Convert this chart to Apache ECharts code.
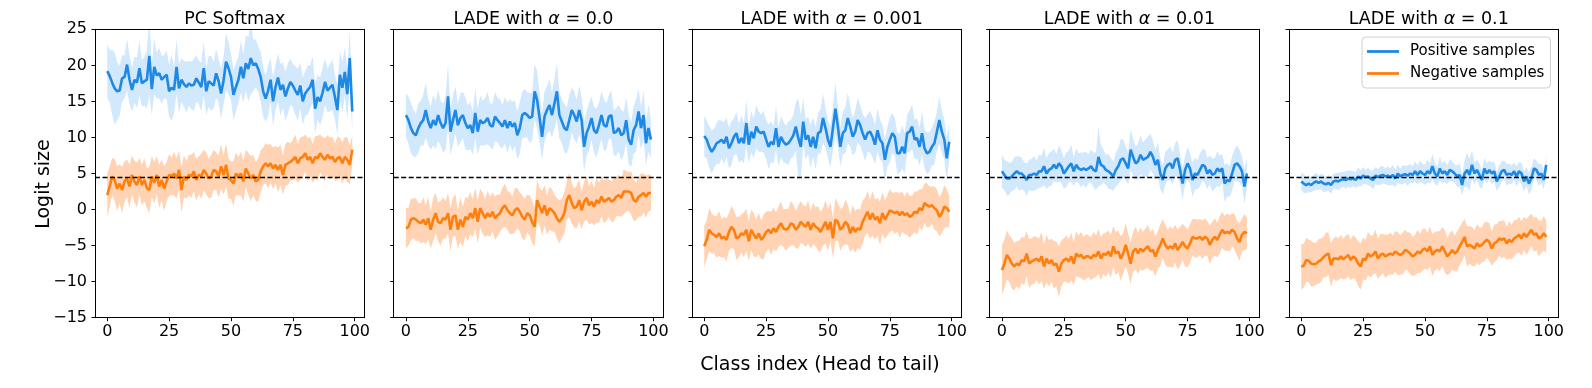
<!DOCTYPE html>
<html>
<head>
<meta charset="utf-8">
<script src="https://cdn.jsdelivr.net/npm/echarts@6/dist/echarts.min.js"></script>
<style>html,body{margin:0;padding:0;background:#fff}#c{width:1592px;height:388px}</style>
</head>
<body>
<div id="c"></div>
<script>
// ---------- DATA ----------
const panelTitles = ['PC Softmax', 'LADE with {a|α} = 0.0', 'LADE with {a|α} = 0.001', 'LADE with {a|α} = 0.01', 'LADE with {a|α} = 0.1'];
const seriesNames = ['Positive samples', 'Negative samples'];
const xTicks = [0, 25, 50, 75, 100];
const classIndex = Array.from({length: 100}, (_, i) => i);
const refLine = 4.5;

const p1Pos = [19.2,18.5,17.6,16.8,16.4,16.5,18.2,18.4,20.1,18.0,
16.6,18.0,17.6,19.6,17.5,17.8,18.0,21.3,16.7,19.8,
18.6,18.9,18.0,18.4,18.7,16.4,16.9,16.6,19.8,16.8,
18.0,17.4,17.0,17.5,17.2,17.3,18.2,17.6,17.0,19.6,
16.4,17.8,17.5,17.2,18.9,17.8,16.1,17.9,20.5,19.6,
18.4,15.9,17.0,18.0,19.8,18.2,20.3,19.5,21.0,20.0,
20.3,19.5,18.4,16.4,15.4,16.5,18.0,15.0,17.0,18.3,
16.6,17.3,15.7,16.8,17.7,17.2,16.5,15.9,17.2,15.0,
16.1,16.6,17.0,18.0,14.0,15.6,15.0,16.2,17.7,16.5,
16.9,17.3,15.6,13.8,18.7,16.9,19.1,16.0,21.0,13.6];
const p1PosStd = [3.8,3.6,4.5,5.0,4.0,3.5,3.2,3.0,3.6,3.4,
3.0,3.2,3.5,3.8,3.2,3.4,4.0,5.5,3.6,3.8,
3.2,3.5,3.3,3.0,3.4,3.6,4.6,3.2,3.8,3.4,
3.0,3.2,3.5,3.1,3.3,3.6,3.2,3.0,3.4,3.7,
3.3,3.5,3.8,3.2,3.4,3.0,3.5,3.3,4.0,3.6,
3.2,3.5,3.4,3.2,3.6,3.4,3.8,4.5,5.0,3.6,
3.3,3.1,3.4,3.5,3.2,3.6,3.0,3.4,3.2,3.3,
3.6,3.1,3.4,3.5,3.2,3.0,3.4,3.6,3.2,3.3,
3.1,3.4,3.0,3.2,3.5,3.1,3.3,3.4,3.2,3.0,
3.3,3.5,3.1,3.4,3.2,3.6,3.3,3.5,3.8,2.8];
const p1Neg = [2.0,3.2,4.6,4.1,2.9,3.6,2.7,3.9,4.3,3.2,
4.8,3.9,3.4,4.6,3.4,4.1,3.0,2.7,4.6,3.7,
4.8,3.2,4.1,2.9,3.9,4.8,4.6,5.0,4.3,5.5,
2.7,4.6,4.1,4.8,4.6,5.3,4.1,4.8,4.6,5.5,
5.0,4.3,4.6,5.5,5.3,4.6,6.0,4.8,6.2,4.3,
4.1,3.6,5.0,4.6,5.0,3.9,5.7,5.0,4.3,4.8,
3.9,4.1,5.3,6.0,6.4,6.0,6.4,5.7,6.2,5.5,
6.2,4.8,6.2,6.4,6.6,6.9,7.3,6.4,7.1,7.3,
7.8,6.9,7.3,6.4,7.3,7.1,7.8,7.3,6.9,7.6,
7.1,7.3,6.6,7.1,7.3,6.4,7.3,6.9,6.2,8.3];
const p1NegStd = [3.0,2.8,2.6,2.9,3.1,2.7,3.2,2.8,2.6,3.0,
2.7,2.9,3.1,2.6,2.8,3.0,2.7,3.2,2.8,2.9,
2.6,3.0,2.8,3.1,2.7,2.9,2.6,3.0,2.8,2.7,
3.1,2.9,2.6,2.8,3.0,2.7,2.9,2.6,3.1,2.8,
2.9,2.7,3.0,2.8,2.6,2.9,3.1,2.7,3.0,2.8,
2.6,3.1,2.9,2.7,3.0,2.8,2.6,2.9,3.1,2.8,
2.7,3.0,2.9,2.6,2.8,3.0,2.7,2.9,2.6,3.1,
2.8,2.7,2.9,3.0,2.6,2.8,3.1,2.7,2.9,2.8,
2.6,3.0,2.8,2.7,2.9,3.1,2.6,2.8,3.0,2.7,
2.9,2.8,2.6,3.0,2.7,2.9,2.8,3.1,2.7,2.0];

const p2Pos = [13.1,12.4,11.3,10.6,10.3,11.3,12.0,12.4,13.8,12.2,
11.3,12.4,11.7,13.1,12.0,11.3,12.0,15.7,10.8,12.4,
13.8,11.7,12.7,13.1,12.0,11.3,11.7,10.6,13.4,10.8,
12.4,12.0,12.2,12.7,11.7,11.5,12.9,12.4,12.0,11.5,
12.4,11.3,12.2,11.5,12.0,10.3,11.3,13.1,13.4,13.1,
12.7,12.9,16.4,15.2,12.7,10.1,12.9,13.8,14.5,13.1,
14.7,16.4,13.1,12.2,11.3,11.0,12.4,13.8,13.1,12.2,
13.8,12.4,8.7,10.6,11.5,12.7,11.0,10.6,11.7,13.1,
11.7,11.5,12.9,13.1,10.6,10.8,11.3,10.3,10.6,12.4,
9.7,9.0,11.0,11.7,13.6,11.3,13.1,9.2,11.3,9.7];
const p2PosStd = [3.0,3.3,3.5,3.2,3.0,3.4,3.1,3.6,3.8,3.2,
3.0,3.5,3.3,3.6,3.1,3.4,3.7,4.4,3.2,3.5,
3.3,3.0,3.4,3.2,3.6,3.1,3.3,3.0,3.4,3.2,
3.5,3.1,3.3,3.6,3.0,3.2,3.4,3.1,3.3,3.0,
3.2,3.5,3.1,3.4,3.2,3.3,3.6,3.2,3.4,3.1,
3.5,3.3,3.8,4.0,3.4,3.2,3.5,3.3,3.6,3.1,
3.4,3.9,3.2,3.0,3.4,3.2,3.5,3.1,3.3,3.0,
3.4,3.2,3.5,3.1,3.3,3.0,3.2,3.4,3.1,3.3,
3.6,3.2,3.0,3.4,3.1,3.3,3.2,3.5,3.0,3.2,
3.4,3.1,3.3,3.6,3.2,3.0,3.4,3.1,3.3,2.6];
const p2Neg = [-2.6,-2.4,-1.4,-1.2,-1.4,-1.7,-1.9,-1.4,-2.1,-1.2,
-2.8,-1.4,-0.5,-1.7,-1.9,-1.2,-1.4,-0.5,-2.8,-1.0,
-0.8,-2.8,-1.4,-2.4,-1.0,-1.4,-0.5,-1.2,0.2,-1.7,
0.2,-0.5,-1.2,-0.5,-1.0,-0.3,-1.2,-0.8,-0.5,0.2,
0.6,-0.1,-0.5,-0.8,-0.1,0.2,-0.3,-1.0,-1.4,-0.5,
-0.8,-1.7,-2.4,1.3,0.4,-0.5,0.6,-0.8,0.2,-0.1,
-0.5,-1.2,-1.7,-1.2,-0.5,1.3,2.0,0.9,0.2,0.4,
1.3,-0.1,1.1,1.6,0.6,1.1,0.4,1.3,0.9,1.8,
1.1,1.3,1.6,1.1,1.3,1.8,2.0,1.6,2.5,2.5,
2.5,2.3,1.3,1.1,1.8,2.0,2.3,1.8,2.3,2.3];
const p2NegStd = [2.8,2.6,2.9,2.7,3.0,2.6,2.8,3.1,2.7,2.9,
2.6,3.0,2.8,2.7,3.1,2.9,2.6,2.8,3.0,2.7,
2.9,2.6,3.1,2.8,2.7,3.0,2.9,2.6,2.8,3.0,
2.7,2.9,2.6,3.1,2.8,2.7,3.0,2.9,2.6,2.8,
3.0,2.7,2.9,2.6,3.1,2.8,2.7,3.0,2.9,2.6,
2.8,3.0,2.7,2.9,2.6,3.1,2.8,2.7,3.0,2.9,
2.6,2.8,3.0,2.7,2.9,2.6,3.1,2.8,2.7,3.0,
2.9,2.6,2.8,3.0,2.7,2.9,2.6,3.1,2.8,2.7,
3.0,2.9,2.6,2.8,3.0,2.7,2.9,2.6,3.1,2.8,
2.7,3.0,2.9,2.6,2.8,3.0,2.7,2.9,2.6,2.4];

const p3Pos = [10.2,9.7,8.7,8.0,8.5,9.2,9.4,9.7,9.2,10.1,
8.5,9.2,10.1,10.6,9.2,9.9,9.2,12.0,9.0,10.8,
9.9,11.5,10.8,10.6,10.8,9.7,8.7,9.4,9.0,11.3,
8.7,10.1,9.4,9.0,9.2,9.7,10.3,11.5,9.9,8.7,
12.2,9.7,10.3,8.7,10.1,8.5,10.6,10.8,12.7,11.3,
9.7,8.7,11.3,14.0,11.5,8.7,10.6,11.0,12.7,11.5,
10.1,10.8,12.4,11.7,10.6,9.7,10.6,10.8,10.1,9.0,
11.0,9.7,9.2,6.9,8.7,9.7,10.6,10.1,7.8,7.8,
8.7,7.8,10.6,10.8,11.5,9.7,9.9,8.7,10.6,8.5,
7.8,8.0,8.7,9.2,10.8,12.4,10.8,9.7,7.1,9.4];
const p3PosStd = [2.8,2.6,2.9,3.0,2.7,2.8,3.1,2.6,2.9,2.7,
2.8,3.0,2.6,2.9,2.7,3.1,2.8,3.2,2.6,2.9,
2.7,3.0,2.8,2.6,2.9,2.7,3.1,2.8,2.6,3.0,
2.7,2.9,2.8,2.6,3.0,2.7,2.9,3.3,5.5,4.5,
3.2,2.8,2.6,3.0,2.7,2.9,2.8,3.1,3.4,2.8,
2.6,2.9,3.0,3.6,2.8,2.7,3.0,3.2,3.5,2.8,
2.6,2.9,3.1,2.8,2.7,3.0,2.6,2.9,2.8,2.7,
3.0,2.8,2.6,2.9,2.7,3.1,2.8,2.6,2.9,2.7,
3.0,2.8,2.6,2.9,3.1,2.7,2.8,2.6,3.0,2.7,
2.9,2.8,2.6,3.0,2.7,3.2,2.9,2.8,3.0,2.5];
const p3Neg = [-5.1,-4.2,-2.8,-3.3,-3.5,-3.8,-3.3,-4.0,-3.8,-4.2,
-3.1,-2.4,-2.8,-4.0,-3.8,-3.3,-3.5,-2.8,-4.4,-2.8,
-3.5,-4.0,-3.3,-4.2,-3.8,-3.1,-2.8,-3.3,-2.6,-3.1,
-2.4,-1.9,-2.6,-2.8,-2.6,-1.9,-2.1,-2.8,-2.4,-1.7,
-2.1,-2.4,-1.7,-2.8,-1.9,-2.4,-2.6,-3.1,-2.4,-1.7,
-2.8,-1.7,-4.0,-1.4,-1.7,-2.8,-2.4,-1.7,-2.1,-3.3,
-2.4,-3.1,-2.6,-2.8,-1.7,-1.0,-0.3,-1.4,-0.5,-1.4,
-1.0,-1.9,-0.5,-1.4,-0.8,-0.1,-0.3,-0.5,-0.3,-0.8,
-0.3,-0.8,-0.5,-1.0,-0.8,-0.3,-0.5,0.2,-0.1,0.9,
0.6,0.4,0.6,0.2,-0.1,-1.0,-0.5,0.4,0.2,-0.3];
const p3NegStd = [2.9,2.7,3.0,2.8,2.6,2.9,3.1,2.7,2.8,3.0,
2.6,2.9,2.7,3.0,2.8,2.6,3.1,2.9,2.7,2.8,
3.0,2.6,2.9,2.7,3.1,2.8,2.6,3.0,2.9,2.7,
2.8,3.0,2.6,2.9,2.7,3.1,2.8,2.6,3.0,2.9,
2.7,2.8,3.0,2.6,2.9,2.7,3.1,2.8,2.6,3.0,
2.9,2.7,2.8,3.0,2.6,2.9,2.7,3.1,2.8,2.6,
3.0,2.9,2.7,2.8,3.0,2.6,2.9,2.7,3.1,2.8,
2.6,3.0,2.9,2.7,2.8,3.0,2.6,2.9,2.7,3.1,
2.8,2.6,3.0,2.9,2.7,2.8,3.0,2.6,2.9,2.7,
3.1,2.8,2.6,3.0,2.9,2.7,2.8,3.0,2.6,2.3];

const p4Pos = [5.3,4.8,4.3,4.3,4.6,5.0,5.3,5.0,5.0,4.6,
4.1,4.8,4.8,5.0,4.8,5.3,5.3,6.0,5.0,5.5,
5.7,6.2,5.7,6.4,6.0,5.0,5.5,6.0,6.4,5.3,
6.2,5.7,5.5,5.7,5.5,5.7,6.0,5.5,5.3,7.3,
6.2,6.0,5.5,5.3,5.0,4.6,5.5,6.0,6.9,7.1,
6.4,5.7,8.3,7.3,6.4,6.7,7.6,6.9,7.1,7.3,
8.0,7.3,6.2,6.9,5.0,4.1,5.7,6.2,6.4,5.7,
6.9,7.1,5.5,3.6,5.5,6.4,5.7,4.1,5.0,4.8,
5.5,6.2,6.0,5.0,5.5,4.8,5.0,5.7,5.3,5.7,
3.6,4.1,3.9,5.0,6.2,6.4,6.0,5.3,3.2,5.0];
const p4PosStd = [2.3,2.1,2.4,2.2,2.0,2.3,2.1,2.4,2.2,2.0,
2.3,2.1,2.2,2.4,2.0,2.3,2.2,2.6,2.1,2.3,
2.4,2.2,2.0,2.5,2.3,2.1,2.4,2.2,2.6,2.0,
2.3,2.1,2.4,2.2,2.5,2.0,2.3,2.4,2.6,4.1,
2.8,2.3,2.1,2.4,2.2,2.0,2.3,2.5,2.9,2.6,
2.4,2.2,2.8,2.6,2.3,2.5,2.7,2.4,2.6,2.8,
2.5,2.3,2.1,2.4,2.2,2.0,2.3,2.1,2.4,2.2,
2.3,2.5,2.1,2.2,2.0,2.3,2.1,2.4,2.2,2.0,
2.3,2.1,2.4,2.2,2.0,2.3,2.1,2.4,2.2,2.0,
2.6,2.3,2.1,2.4,2.2,2.5,2.3,2.1,2.4,2.2];
const p4Neg = [-8.4,-7.5,-6.3,-6.8,-7.5,-7.9,-7.5,-7.7,-7.0,-7.2,
-6.1,-7.5,-7.2,-7.0,-6.8,-7.2,-6.5,-7.9,-6.8,-7.5,
-7.0,-7.7,-7.5,-8.6,-7.5,-7.0,-6.8,-7.2,-6.5,-7.5,
-6.1,-6.5,-6.3,-6.8,-6.5,-6.5,-6.8,-6.3,-6.5,-5.8,
-6.8,-6.1,-6.3,-5.8,-6.5,-5.1,-6.1,-5.8,-6.8,-6.1,
-4.9,-6.1,-7.5,-5.8,-5.4,-6.1,-5.4,-5.8,-5.4,-5.1,
-5.8,-5.6,-6.5,-5.6,-4.9,-4.0,-4.9,-5.4,-5.1,-5.4,
-4.7,-5.6,-5.1,-4.5,-5.1,-5.4,-4.7,-3.8,-4.0,-4.0,
-3.8,-4.2,-3.8,-4.0,-4.9,-4.2,-3.8,-4.2,-3.5,-2.8,
-3.3,-3.1,-3.3,-2.8,-3.1,-4.0,-4.5,-3.5,-3.1,-3.3];
const p4NegStd = [3.5,3.3,3.4,3.2,3.5,3.3,3.1,3.4,3.2,3.3,
3.1,3.4,3.2,3.3,3.0,3.2,3.4,3.1,3.3,3.2,
3.0,3.3,3.1,3.5,3.2,3.0,3.2,3.1,3.3,3.0,
3.1,2.9,3.2,3.0,3.1,2.9,3.0,3.2,2.9,3.1,
3.0,2.8,3.1,2.9,3.0,2.8,3.0,2.9,3.1,2.8,
3.0,2.8,2.9,2.7,3.0,2.8,2.9,2.7,2.8,3.0,
2.7,2.9,2.8,2.6,2.9,2.7,2.8,2.6,2.8,2.7,
2.6,2.8,2.7,2.5,2.8,2.6,2.7,2.5,2.7,2.6,
2.5,2.7,2.6,2.4,2.7,2.5,2.6,2.4,2.6,2.5,
2.4,2.6,2.5,2.3,2.5,2.4,2.6,2.3,2.5,2.2];

const p5Pos = [3.9,3.6,3.4,3.6,3.4,3.7,3.9,3.7,3.9,3.6,
3.5,3.7,3.4,3.9,4.0,3.9,4.1,4.2,4.1,4.3,
4.2,4.3,4.1,4.6,4.3,4.7,4.5,4.6,4.3,4.1,
4.7,4.5,4.7,4.8,4.6,4.7,4.5,4.8,4.3,5.0,
4.6,4.8,4.9,4.7,5.0,4.8,5.3,4.8,5.3,5.0,
4.8,5.3,5.0,6.0,5.0,4.6,5.7,5.0,5.3,4.8,
5.5,5.3,5.0,4.6,4.8,3.4,5.0,5.5,4.8,6.2,
5.0,5.5,4.8,4.1,5.7,5.0,5.5,5.0,5.3,3.9,
4.6,5.3,5.5,4.8,5.0,4.8,5.3,4.6,5.3,5.0,
3.9,4.6,3.6,4.3,5.7,5.5,4.8,5.0,4.1,6.2];
const p5PosStd = [1.2,1.3,1.1,1.2,1.0,1.1,1.2,1.0,1.1,1.2,
1.0,1.1,1.2,1.0,1.1,1.2,1.1,1.0,1.2,1.1,
1.2,1.0,1.1,1.3,1.1,1.2,1.0,1.2,1.1,1.3,
1.2,1.1,1.3,1.2,1.1,1.3,1.2,1.4,1.2,1.3,
1.1,1.3,1.2,1.4,1.3,1.2,1.4,1.3,1.5,1.3,
1.4,1.6,1.4,1.7,1.5,1.3,1.6,1.4,1.5,1.3,
1.5,1.4,1.3,1.5,1.6,1.4,1.8,2.4,2.2,2.0,
1.5,1.4,1.6,1.3,1.5,1.4,1.3,1.5,1.4,1.3,
1.5,1.4,1.3,1.5,1.4,1.3,1.2,1.4,1.3,1.5,
1.4,1.3,1.5,1.6,1.4,1.3,1.5,1.4,1.3,1.2];
const p5Neg = [-7.9,-7.8,-7.0,-7.1,-7.5,-7.6,-7.5,-7.2,-7.0,-6.6,
-6.3,-6.1,-7.7,-6.8,-6.8,-6.9,-6.5,-6.9,-6.6,-6.3,
-7.0,-6.5,-6.8,-7.5,-7.9,-6.8,-7.0,-6.1,-6.5,-6.3,
-5.8,-6.8,-6.3,-6.1,-6.5,-6.3,-6.1,-6.3,-5.8,-6.1,
-6.3,-6.1,-5.6,-5.8,-6.1,-6.5,-6.3,-5.8,-6.1,-5.6,
-5.4,-5.8,-5.1,-6.3,-5.8,-5.6,-5.8,-5.1,-5.8,-6.5,
-6.1,-5.6,-6.1,-5.8,-5.1,-4.5,-3.8,-5.1,-4.9,-5.1,
-5.4,-4.7,-5.1,-4.9,-4.5,-4.2,-4.5,-5.4,-4.7,-4.5,
-4.0,-4.2,-4.0,-4.7,-4.2,-4.5,-4.0,-3.8,-3.5,-4.0,
-3.3,-3.8,-3.3,-2.8,-3.5,-3.3,-4.0,-3.8,-3.3,-3.8];
const p5NegStd = [3.2,3.0,3.1,2.9,3.2,3.0,2.9,3.1,3.0,2.8,
3.1,2.9,3.0,2.8,3.1,2.9,3.0,2.8,3.0,2.9,
2.8,3.0,2.9,3.1,3.2,2.9,2.8,3.0,2.9,2.7,
3.0,2.8,2.9,2.7,3.0,2.8,2.9,2.7,2.8,3.0,
2.7,2.9,2.8,2.6,2.9,2.7,2.8,3.0,2.7,2.9,
2.8,2.6,2.8,2.9,2.7,2.6,2.8,2.7,2.9,2.6,
2.8,2.7,2.5,2.8,2.6,2.7,2.5,2.8,2.6,2.7,
2.5,2.7,2.6,2.4,2.7,2.5,2.6,2.4,2.6,2.5,
2.4,2.6,2.5,2.3,2.6,2.4,2.5,2.3,2.5,2.4,
2.3,2.5,2.4,2.2,2.4,2.3,2.5,2.2,2.4,2.2];

// ---------- LAYOUT / STYLE ----------
const FONT = 'DejaVu Sans';
const BLUE = '#1e88e5', BLUE_BAND = '#d2e8fc';
const ORANGE = '#ff7f0e', ORANGE_BAND = '#ffd3b3';
const gridLefts = [95, 393.7, 692, 989.7, 1289];
const gridTop = 29.3, gridW = 269.5, gridH = 288.4;

const panels = [
  {pos: p1Pos, posStd: p1PosStd, neg: p1Neg, negStd: p1NegStd},
  {pos: p2Pos, posStd: p2PosStd, neg: p2Neg, negStd: p2NegStd},
  {pos: p3Pos, posStd: p3PosStd, neg: p3Neg, negStd: p3NegStd},
  {pos: p4Pos, posStd: p4PosStd, neg: p4Neg, negStd: p4NegStd},
  {pos: p5Pos, posStd: p5PosStd, neg: p5Neg, negStd: p5NegStd}
];

const minusFmt = v => String(v).replace('-', '\u2212');
const grids = [], xAxes = [], yAxes = [], series = [], titles = [];

function bandSeries(mean, std, xi, yi, color) {
  const data = classIndex.map((x, k) => [x, mean[k] - std[k], mean[k] + std[k]]);
  return {
    type: 'custom', xAxisIndex: xi, yAxisIndex: yi, silent: true, z: 1, animation: false,
    encode: {x: 0, y: [1, 2]},
    data: data,
    renderItem: function (params, api) {
      if (params.dataIndex !== 0) return null;
      const top = [], bot = [];
      for (let k = 0; k < data.length; k++) {
        top.push(api.coord([data[k][0], data[k][2]]));
        bot.push(api.coord([data[k][0], data[k][1]]));
      }
      const pts = top.concat(bot.reverse());
      const cs = params.coordSys;
      return {
        type: 'polygon',
        shape: {points: pts},
        style: {fill: color, stroke: null},
        clipPath: {type: 'rect', shape: {x: cs.x, y: cs.y, width: cs.width, height: cs.height}}
      };
    }
  };
}

panels.forEach((p, i) => {
  grids.push({left: gridLefts[i], top: gridTop, width: gridW, height: gridH, containLabel: false});
  xAxes.push({
    type: 'value', gridIndex: i, min: -4.95, max: 103.95, z: 10,
    axisLine: {show: true, onZero: false, lineStyle: {color: '#000', width: 1}},
    axisTick: {show: true, length: 3.5, customValues: xTicks, lineStyle: {color: '#000'}},
    axisLabel: {show: true, customValues: xTicks, margin: 6, color: '#000', fontSize: 16, fontFamily: FONT},
    splitLine: {show: false}
  });
  xAxes.push({
    type: 'value', gridIndex: i, position: 'top', min: -4.95, max: 103.95, z: 10,
    axisLine: {show: true, onZero: false, lineStyle: {color: '#000', width: 1}},
    axisTick: {show: false}, axisLabel: {show: false}, splitLine: {show: false}
  });
  yAxes.push({
    type: 'value', gridIndex: i, min: -15, max: 25, interval: 5, z: 10,
    axisLine: {show: true, onZero: false, lineStyle: {color: '#000', width: 1}},
    axisTick: {show: true, length: 3.5, lineStyle: {color: '#000'}},
    axisLabel: {show: i === 0, margin: 8, color: '#000', fontSize: 16, fontFamily: FONT, formatter: minusFmt},
    splitLine: {show: false}
  });
  yAxes.push({
    type: 'value', gridIndex: i, position: 'right', min: -15, max: 25, interval: 5, z: 10,
    axisLine: {show: true, onZero: false, lineStyle: {color: '#000', width: 1}},
    axisTick: {show: false}, axisLabel: {show: false}, splitLine: {show: false}
  });
  const xi = 2 * i, yi = 2 * i;
  series.push(bandSeries(p.pos, p.posStd, xi, yi, BLUE_BAND));
  series.push(bandSeries(p.neg, p.negStd, xi, yi, ORANGE_BAND));
  series.push({
    name: seriesNames[0], type: 'line', xAxisIndex: xi, yAxisIndex: yi,
    data: classIndex.map((x, k) => [x, p.pos[k]]),
    symbol: 'none', lineStyle: {color: BLUE, width: 2.6}, itemStyle: {color: BLUE}, z: 3, animation: false
  });
  series.push({
    name: seriesNames[1], type: 'line', xAxisIndex: xi, yAxisIndex: yi,
    data: classIndex.map((x, k) => [x, p.neg[k]]),
    symbol: 'none', lineStyle: {color: ORANGE, width: 2.6}, itemStyle: {color: ORANGE}, z: 3, animation: false,
    markLine: {
      silent: true, symbol: 'none', animation: false, label: {show: false},
      lineStyle: {color: '#000', width: 1.4, type: [5, 2.5]},
      data: [{yAxis: refLine}]
    }
  });
  titles.push({
    text: panelTitles[i], left: gridLefts[i] + gridW / 2, textAlign: 'center', top: 5,
    textStyle: {fontSize: 17.5, fontWeight: 'normal', color: '#000', fontFamily: FONT,
      rich: {a: {fontSize: 17.5, fontStyle: 'italic', color: '#000', fontFamily: FONT}}}
  });
});

const chart = echarts.init(document.getElementById('c'), null, {renderer: 'canvas'});
chart.setOption({
  animation: false,
  backgroundColor: '#fff',
  title: titles,
  grid: grids,
  xAxis: xAxes,
  yAxis: yAxes,
  series: series,
  legend: {
    data: seriesNames.map(n => ({name: n, icon: 'rect'})),
    orient: 'vertical', left: 1362, top: 37,
    padding: [6, 6, 6, 5], itemWidth: 32, itemHeight: 2.8, itemGap: 5,
    borderColor: '#d0d0d0', borderWidth: 1, borderRadius: 4, backgroundColor: 'rgba(255,255,255,0.85)',
    textStyle: {fontSize: 15, lineHeight: 17, fontFamily: FONT, color: '#000', padding: [0, 0, 0, 6]}
  },
  graphic: [
    {type: 'text', x: 44, y: 184, rotation: Math.PI / 2,
     style: {text: 'Logit size', fontSize: 19, fontFamily: FONT, fill: '#000', textAlign: 'center', textVerticalAlign: 'middle'}},
    {type: 'text', x: 820, y: 365,
     style: {text: 'Class index (Head to tail)', fontSize: 19, fontFamily: FONT, fill: '#000', textAlign: 'center', textVerticalAlign: 'middle'}}
  ]
});
</script>
</body>
</html>
